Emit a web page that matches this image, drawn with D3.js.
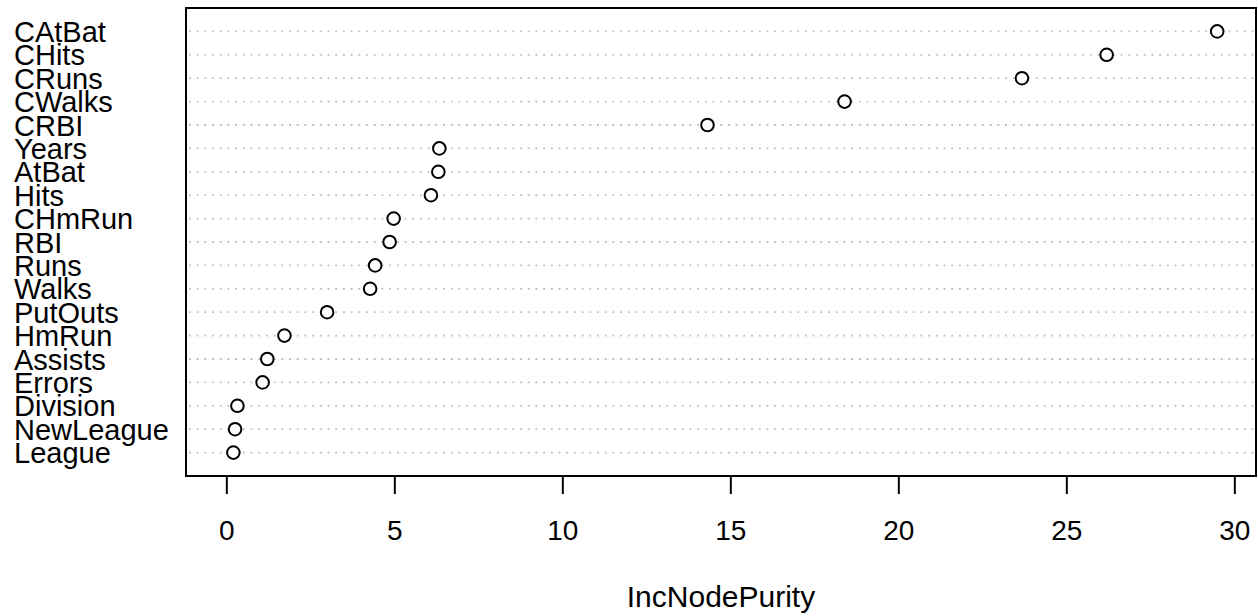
<!DOCTYPE html>
<html>
<head>
<meta charset="utf-8">
<script src="https://d3js.org/d3.v7.min.js"></script>
<style>
  body { margin: 0; background: #fff; }
  text { font-family: "Liberation Sans", Arial, sans-serif; fill: #000; }
</style>
</head>
<body>
<script>
// variables, top to bottom as drawn
var variables = ["CAtBat", "CHits", "CRuns", "CWalks", "CRBI", "Years", "AtBat", "Hits",
                 "CHmRun", "RBI", "Runs", "Walks", "PutOuts", "HmRun", "Assists", "Errors",
                 "Division", "NewLeague", "League"];
// IncNodePurity, same order
var purity = [29.49, 26.20, 23.68, 18.40, 14.32, 6.34, 6.31, 6.09,
              4.98, 4.86, 4.43, 4.28, 3.00, 1.73, 1.22, 1.08,
              0.33, 0.26, 0.21];
var xTicks = [0, 5, 10, 15, 20, 25, 30];
var xLabel = "IncNodePurity";

var W = 1258, H = 616;
var box = {left: 186, right: 1256, top: 8, bottom: 476};
var n = variables.length;

var svg = d3.select("body").append("svg")
    .attr("width", W)
    .attr("height", H);

var x = d3.scaleLinear()
    .domain([-1.2, 30.645])
    .range([box.left, box.right]);

// row 1 at bottom, row n at top
var y = d3.scaleLinear()
    .domain([0, n + 1])
    .range([box.bottom, box.top]);

var rowY = function(i) { return y(n - i); };

// dotted guide lines
svg.append("g").selectAll("line")
    .data(variables)
    .enter().append("line")
    .attr("x1", box.left + 3)
    .attr("x2", box.right - 2)
    .attr("y1", function(d, i) { return rowY(i); })
    .attr("y2", function(d, i) { return rowY(i); })
    .style("stroke", "#bebebe")
    .style("stroke-width", 1.8)
    .style("stroke-dasharray", "1.8,5.9");

// points
svg.append("g").selectAll("circle")
    .data(purity)
    .enter().append("circle")
    .attr("cx", function(d) { return x(d); })
    .attr("cy", function(d, i) { return rowY(i); })
    .attr("r", 6.3)
    .style("fill", "#fff")
    .style("stroke", "#000")
    .style("stroke-width", 2);

// labels on the left
svg.append("g").selectAll("text")
    .data(variables)
    .enter().append("text")
    .attr("x", 14)
    .attr("y", function(d, i) { return rowY(i) + 10.6; })
    .attr("font-size", "29px")
    .text(function(d) { return d; });

// frame
svg.append("rect")
    .attr("x", box.left)
    .attr("y", box.top)
    .attr("width", box.right - box.left)
    .attr("height", box.bottom - box.top)
    .style("fill", "none")
    .style("stroke", "#000")
    .style("stroke-width", 2);

// x axis
var ax = svg.append("g")
    .attr("transform", "translate(0," + box.bottom + ")")
    .call(d3.axisBottom(x).tickValues(xTicks).tickSize(18).tickPadding(26));
ax.select(".domain").remove();
ax.selectAll(".tick line").style("stroke", "#000").style("stroke-width", 2);
ax.selectAll(".tick text")
    .attr("font-size", "28px")
    .attr("font-family", "Liberation Sans, Arial, sans-serif")
    .style("fill", "#000");

svg.append("text")
    .attr("x", (box.left + box.right) / 2)
    .attr("y", 607)
    .attr("text-anchor", "middle")
    .attr("font-size", "30px")
    .text(xLabel);
</script>
</body>
</html>
